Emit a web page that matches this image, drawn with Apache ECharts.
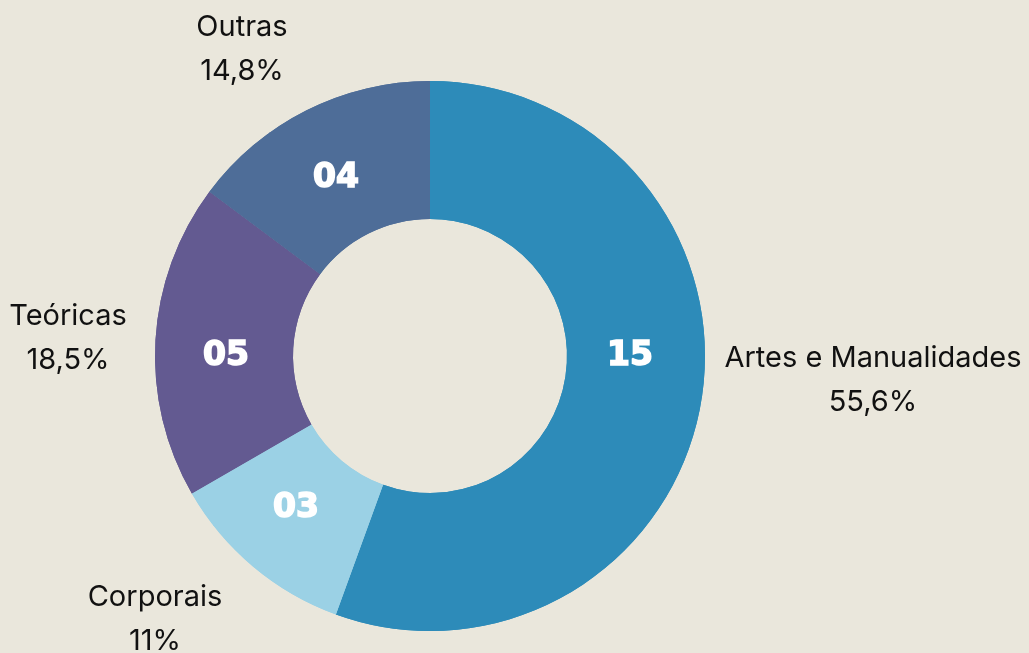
<!DOCTYPE html>
<html><head><meta charset="utf-8">
<script src="https://cdn.jsdelivr.net/npm/echarts@6/dist/echarts.min.js"></script>
<style>html,body{margin:0;padding:0;background:#eae7dc;}#c{width:1029px;height:653px;}</style>
</head><body><div id="c"></div>
<script>
const categories = ["Artes e Manualidades", "Corporais", "Teóricas", "Outras"];
const values = [15, 3, 5, 4];
const valueLabels = ["15", "03", "05", "04"];
const pctLabels = ["55,6%", "11%", "18,5%", "14,8%"];
const colors = ["#2d8bb9", "#9bd1e5", "#635a91", "#4e6d98"];

const CX = 430, CY = 356;
const outerOffsets = [[443, 24], [-275, 263], [-362, -18], [-188, -307]];
const innerOffsets = [[200, 0], [-134, 152], [-204, 0], [-94, -178]];

const chart = echarts.init(document.getElementById('c'));
const data = categories.map((n, i) => ({ name: n, value: values[i], itemStyle: { color: colors[i] } }));
chart.setOption({
  backgroundColor: '#eae7dc',
  animation: false,
  series: [
    {
      type: 'pie', center: [CX, CY], radius: [137, 275], startAngle: 90, clockwise: true,
      silent: true, data: data,
      label: {
        show: true, position: 'outside', color: '#111',
        fontFamily: 'Inter', fontSize: 29, lineHeight: 44, align: 'center',
        overflow: 'none', width: 400,
        formatter: p => p.name + '\n' + pctLabels[p.dataIndex]
      },
      labelLine: { show: false },
      labelLayout: p => ({ x: CX + outerOffsets[p.dataIndex][0], y: CY + outerOffsets[p.dataIndex][1], align: 'center', verticalAlign: 'middle', width: 400 })
    },
    {
      type: 'pie', center: [CX, CY], radius: [137, 275], startAngle: 90, clockwise: true,
      silent: true, data: data,
      label: {
        show: true, position: 'inside', color: '#ffffff',
        fontFamily: 'DejaVu Sans', fontWeight: 900, fontSize: 33,
        textBorderColor: '#ffffff', textBorderWidth: 1.6,
        formatter: p => valueLabels[p.dataIndex]
      },
      labelLayout: p => ({ x: CX + innerOffsets[p.dataIndex][0], y: CY + innerOffsets[p.dataIndex][1], align: 'center', verticalAlign: 'middle' })
    }
  ]
});
</script></body></html>
